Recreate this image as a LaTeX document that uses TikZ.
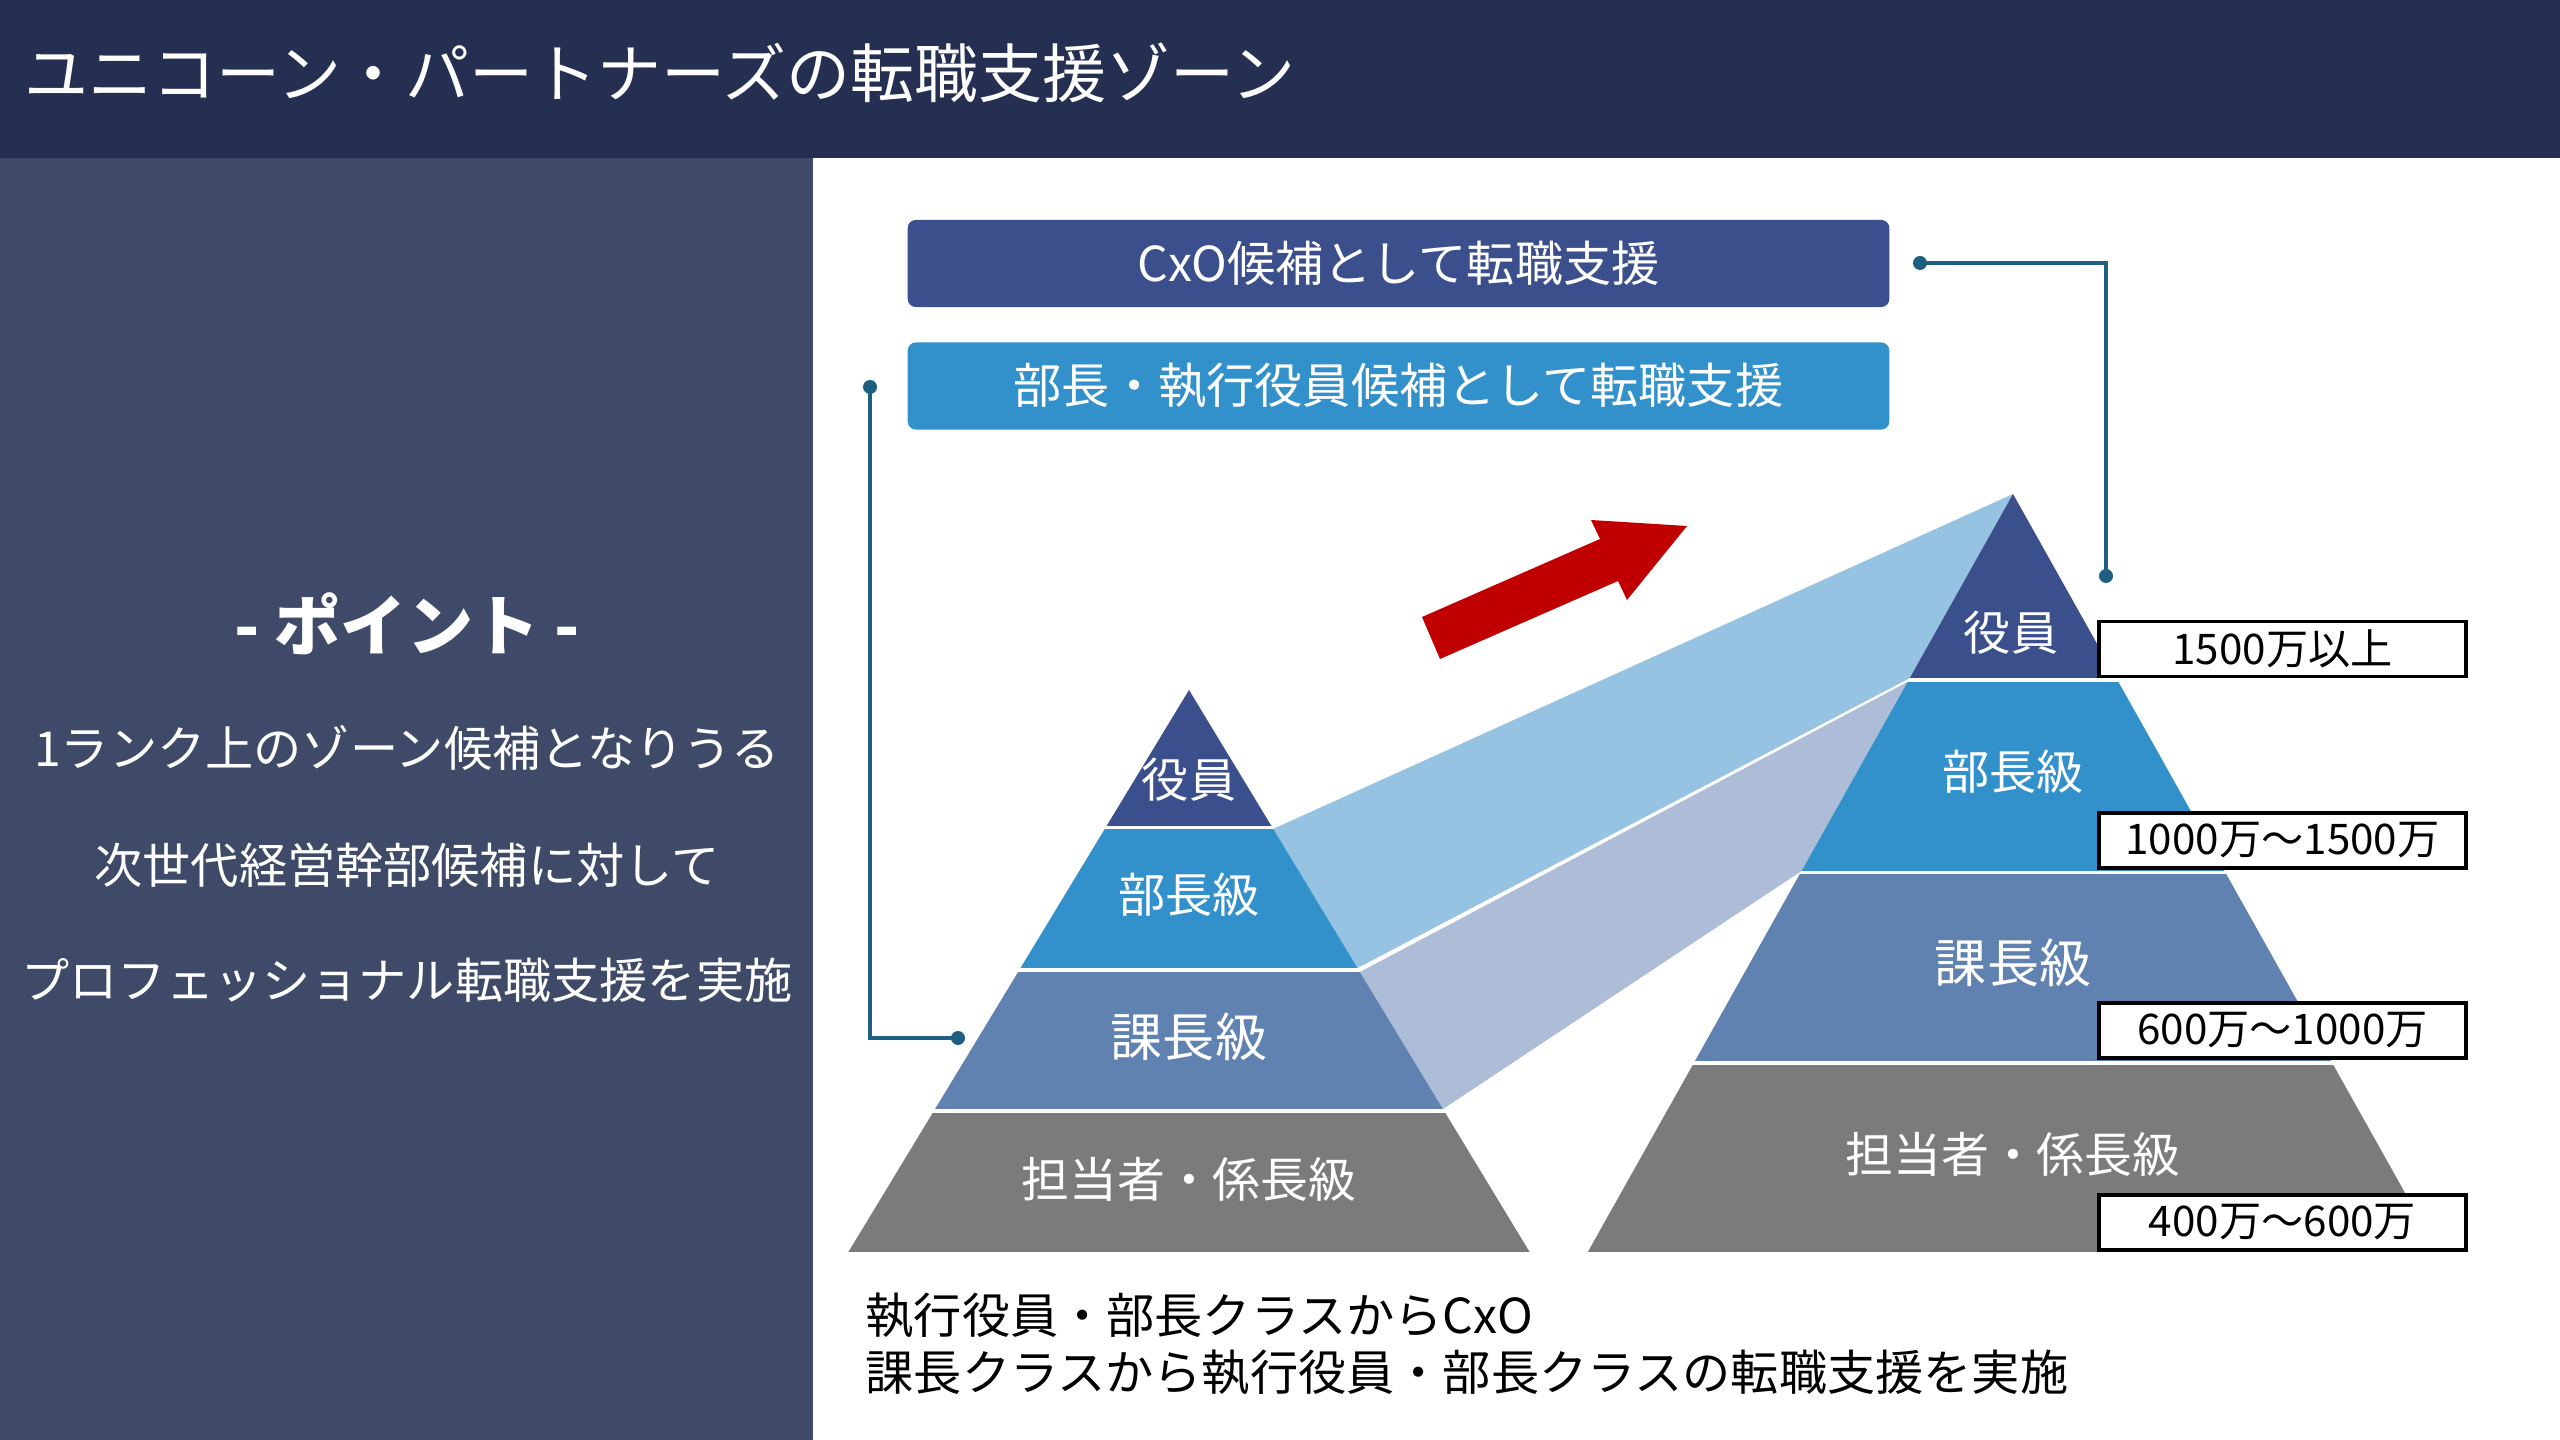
\documentclass[tikz,border=0pt]{standalone}
\usepackage{fontspec}
\setmainfont{Noto Sans CJK JP}
\definecolor{titlebar}{HTML}{252F52}
\definecolor{sidepanel}{HTML}{3E4A68}
\definecolor{darkblue}{HTML}{3A4F8C}
\definecolor{midblue}{HTML}{3290CB}
\definecolor{slateblue}{HTML}{6082B0}
\definecolor{layergray}{HTML}{7B7B7B}
\definecolor{bandlight}{HTML}{96C3E2}
\definecolor{bandgray}{HTML}{ADBDD7}
\definecolor{linkcol}{HTML}{1E5E80}
\definecolor{arrowred}{HTML}{C00000}

\begin{document}
\begin{tikzpicture}[x=0.01cm,y=-0.01cm,
  sidetext/.style={text=white,inner sep=0pt,font=\fontsize{13.7pt}{16pt}\selectfont},
  zonebox/.style={rounded corners=0.08cm,text=white,minimum width=9.81cm,minimum height=0.87cm,
    font=\fontsize{13.7pt}{16pt}\selectfont},
  layertext/.style={text=white,inner sep=0pt},
  pricebox/.style={draw=black,line width=1.1pt,fill=white,minimum width=3.66cm,minimum height=0.55cm,
    inner sep=0pt,font=\fontsize{12pt}{14pt}\selectfont},
  link/.style={draw=linkcol,line width=1pt},
  linkdot/.style={fill=linkcol}]
\useasboundingbox (0,0) rectangle (2560,1440);
\fill[white] (0,0) rectangle (2560,1440);
\fill[titlebar] (0,0) rectangle (2560,158);
\fill[sidepanel] (0,158) rectangle (813,1440);
\node[anchor=west,text=white,inner sep=0pt,font=\fontsize{18.2pt}{20pt}\selectfont] (title) at (24,73)
  {ユニコーン・パートナーズの転職支援ゾーン};
\node[text=white,inner sep=0pt,font=\fontsize{18.8pt}{20pt}\selectfont\bfseries] (point) at (407,624) {- ポイント -};
\node[sidetext] (side1) at (407,748) {1ランク上のゾーン候補となりうる};
\node[sidetext] (side2) at (407,865) {次世代経営幹部候補に対して};
\node[sidetext] (side3) at (407,980) {プロフェッショナル転職支援を実施};
\node[zonebox,fill=darkblue] (cxo) at (1398.5,263.5) {CxO候補として転職支援};
\node[zonebox,fill=midblue] (bucho) at (1398.5,386) {部長・執行役員候補として転職支援};
\fill[bandlight] (1273,829) -- (2013,494) -- (1910,678) -- (1357.5,968) -- cycle;
\fill[bandgray] (1360,972) -- (1907.5,682) -- (1801.5,871) -- (1443,1109) -- cycle;
\begin{scope}
\clip (1189,690) -- (1529.6,1252) -- (848.4,1252) -- cycle;
\fill[darkblue] (800,680) rectangle (1600,826);
\fill[midblue] (800,829) rectangle (1600,968);
\fill[slateblue] (800,972) rectangle (1600,1109);
\fill[layergray] (800,1113) rectangle (1600,1252);
\end{scope}
\begin{scope}
\clip (2013,494) -- (2438.2,1252) -- (1587.8,1252) -- cycle;
\fill[darkblue] (1550,480) rectangle (2480,678);
\fill[midblue] (1550,682) rectangle (2480,871);
\fill[slateblue] (1550,874) rectangle (2480,1061);
\fill[layergray] (1550,1065) rectangle (2480,1252);
\end{scope}
\node[layertext,font=\fontsize{13.4pt}{16pt}\selectfont] (lyakuin) at (1189,780) {役員};
\node[layertext,font=\fontsize{13.4pt}{16pt}\selectfont] (lbucho) at (1189,895) {部長級};
\node[layertext,font=\fontsize{14.8pt}{16pt}\selectfont] (lkacho) at (1189,1037) {課長級};
\node[layertext,font=\fontsize{13.6pt}{16pt}\selectfont] (ltanto) at (1189,1179) {担当者・係長級};
\node[layertext,font=\fontsize{13.4pt}{16pt}\selectfont] (ryakuin) at (2011,633) {役員};
\node[layertext,font=\fontsize{13.4pt}{16pt}\selectfont] (rbucho) at (2013,772) {部長級};
\node[layertext,font=\fontsize{14.8pt}{16pt}\selectfont] (rkacho) at (2013,963) {課長級};
\node[layertext,font=\fontsize{13.6pt}{16pt}\selectfont] (rtanto) at (2013,1154) {担当者・係長級};
\node[pricebox] (p1) at (2282.5,649) {1500万以上};
\node[pricebox] (p2) at (2282.5,840.5) {1000万〜1500万};
\node[pricebox] (p3) at (2282.5,1030.5) {600万〜1000万};
\node[pricebox] (p4) at (2282.5,1222.5) {400万〜600万};
\fill[arrowred] (1422,617) -- (1600,539) -- (1591,520) -- (1687,526) -- (1627,600) -- (1618,581) -- (1440,659) -- cycle;
\coordinate (cxoA) at (1920,263);
\coordinate (cxoB) at (2106,576);
\coordinate (buchoA) at (870,387);
\coordinate (buchoB) at (958,1038);
\draw[link] (cxoA) -| (cxoB);
\draw[link] (buchoA) |- (buchoB);
\fill[linkdot] (cxoA) circle (7);
\fill[linkdot] (cxoB) circle (7);
\fill[linkdot] (buchoA) circle (7);
\fill[linkdot] (buchoB) circle (7);
\node[anchor=west,inner sep=0pt,font=\fontsize{13.7pt}{16pt}\selectfont] (note1) at (865,1316) {執行役員・部長クラスからCxO};
\node[anchor=west,inner sep=0pt,font=\fontsize{13.7pt}{16pt}\selectfont] (note2) at (865,1373) {課長クラスから執行役員・部長クラスの転職支援を実施};
\end{tikzpicture}
\end{document}
